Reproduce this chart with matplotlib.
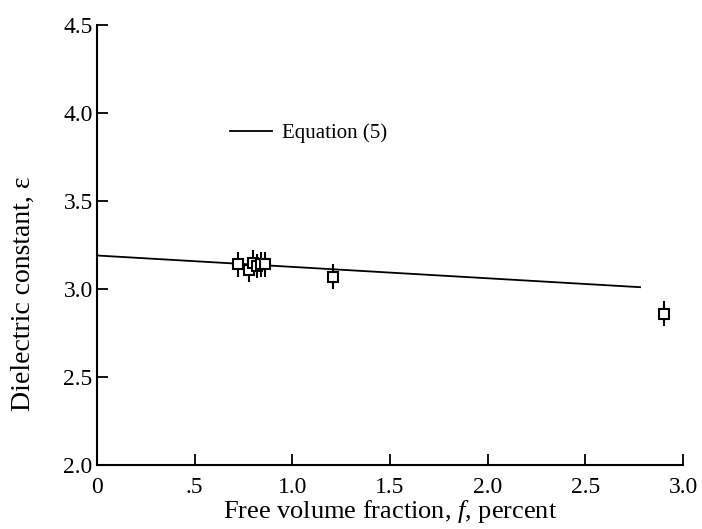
import matplotlib
matplotlib.use("Agg")
import matplotlib.pyplot as plt
import numpy as np

plt.rcParams['font.family'] = ['Liberation Serif', 'DejaVu Serif']
plt.rcParams['mathtext.fontset'] = 'custom'
plt.rcParams['mathtext.rm'] = 'Liberation Serif'
plt.rcParams['mathtext.it'] = 'Liberation Serif:italic'

# measured points
f_pct = [0.72, 0.78, 0.80, 0.82, 0.84, 0.86, 1.21, 2.90]
eps = [3.14, 3.11, 3.15, 3.13, 3.14, 3.14, 3.07, 2.86]
eps_err = [0.07, 0.07, 0.07, 0.07, 0.07, 0.07, 0.07, 0.07]

# equation (5) line
eq_f = [0.0, 2.78]
eq_eps = [3.19, 3.01]

xticks = [0, 0.5, 1.0, 1.5, 2.0, 2.5, 3.0]
xticklabels = ['0', '.5', '1.0', '1.5', '2.0', '2.5', '3.0']
yticks = [2.0, 2.5, 3.0, 3.5, 4.0, 4.5]

fig = plt.figure(figsize=(7.02, 5.29), dpi=100)
ax = fig.add_axes([0.138, 0.121, 0.835, 0.832])

ax.plot(eq_f, eq_eps, color='black', lw=1.3, label='Equation (5)')
ax.errorbar(f_pct, eps, yerr=eps_err, fmt='s', mfc='white', mec='black',
            ms=6.5, mew=1.5, ecolor='black', elinewidth=1.5, capsize=0)

ax.set_xlim(0, 3.0)
ax.set_ylim(2.0, 4.5)
ax.set_xticks(xticks)
ax.set_xticklabels(xticklabels)
ax.set_yticks(yticks)
ax.set_yticklabels(['%.1f' % v for v in yticks])

for s in ['top', 'right']:
    ax.spines[s].set_visible(False)
for s in ['left', 'bottom']:
    ax.spines[s].set_linewidth(1.5)
ax.tick_params(direction='in', length=8, width=1.3, labelsize=17)
ax.tick_params(axis='x', pad=9)
ax.tick_params(axis='y', pad=3)

ax.set_xlabel('Free volume fraction, $f$, percent', fontsize=19, labelpad=0)
ax.set_ylabel('Dielectric constant, \u03b5', fontsize=20)
ax.yaxis.set_label_coords(-0.104, 0.39)

ax.legend(loc='upper left', bbox_to_anchor=(0.195, 0.818), frameon=False,
          fontsize=15, handlelength=2.0, handletextpad=0.5)

plt.savefig('out.png', dpi=100)
